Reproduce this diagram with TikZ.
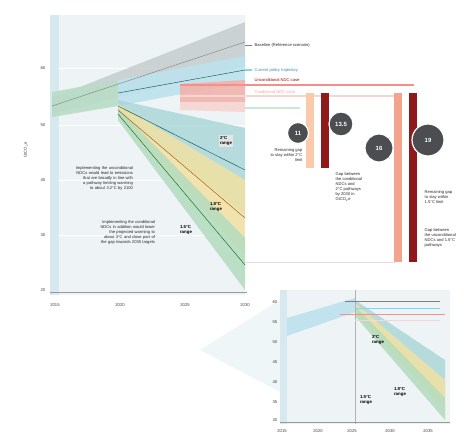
\documentclass[tikz,border=0pt]{standalone}
\usepackage{fontspec}
\setmainfont{Liberation Sans}
\definecolor{plotbg}{HTML}{EEF3F5}
\definecolor{axisblue}{HTML}{D6E9EF}
\definecolor{basegray}{HTML}{C3CACC}
\definecolor{histgreen}{HTML}{B8DCC6}
\definecolor{polblue}{HTML}{BCE2EE}
\definecolor{ucpink}{HTML}{F1B3AC}
\definecolor{cpale}{HTML}{F6D6D0}
\definecolor{teal2}{HTML}{A7D5D8}
\definecolor{yellow2}{HTML}{F2E1A2}
\definecolor{green15}{HTML}{B3DBBE}
\definecolor{darkred}{HTML}{8E1A1C}
\definecolor{salmon}{HTML}{F2A48E}
\definecolor{circgray}{HTML}{4B4D50}
\tikzset{
  lbl/.style={font=\fontsize{4.1}{5}\selectfont, text=black!85, inner sep=0.5pt},
  tick/.style={font=\fontsize{4.2}{5}\selectfont, text=black!75, inner sep=0.5pt},
  rng/.style={font=\fontsize{4.4}{5.2}\bfseries\selectfont, align=left, inner sep=1pt},
  gapnum/.style={circle, fill=circgray, draw=white, line width=1.2pt, text=white, font=\fontsize{6}{7}\bfseries\selectfont, inner sep=0pt},
  gapbar/.style={line width=#1}
}
\begin{document}
\begin{tikzpicture}[x=1pt,y=-1pt]
\useasboundingbox (0,0) rectangle (470,437);

\fill[plotbg] (52,15) rectangle (245,295);
\fill[axisblue] (50,15) rectangle (59,295);
\foreach \yy in {68,125,180,235}
  \draw[white, line width=0.4pt] (59,\yy) -- (245,\yy);
\draw[black!40, line width=0.4pt] (50,292) -- (247,292);
\draw[black!12, line width=0.4pt] (245,262) -- (395,262);

\fill[basegray, opacity=0.8] (52,98) -- (245,22) -- (245,66) -- (52,114) -- cycle;
\fill[histgreen, opacity=0.9] (52,92) -- (118,80) -- (118,106) -- (52,117) -- cycle;
\fill[polblue, opacity=0.9] (118,80) -- (245,56) -- (245,82) -- (118,106) -- cycle;
\fill[ucpink, opacity=0.9] (180,84) -- (245,80) -- (245,102) -- (180,102) -- cycle;
\fill[cpale, opacity=0.9] (180,102) -- (245,102) -- (245,112) -- (180,110) -- cycle;
\fill[teal2, opacity=0.8] (118,100) -- (245,128) -- (245,215) -- (118,112) -- cycle;
\fill[yellow2, opacity=0.85] (118,104) -- (245,180) -- (245,255) -- (118,116) -- cycle;
\fill[green15, opacity=0.85] (118,108) -- (245,238) -- (245,290) -- (118,120) -- cycle;
\draw[black!45, line width=0.5pt] (52,106) -- (245,42);
\draw[teal!60!black, line width=0.4pt] (118,93) -- (245,70);
\draw[teal!60!black, line width=0.4pt] (118,106) -- (245,170);
\draw[orange!60!black, line width=0.4pt] (118,110) -- (245,218);
\draw[green!40!black, line width=0.4pt] (118,114) -- (245,265);

\foreach \yy/\vv in {68/60,125/50,180/40,235/30,290/20}
  \node[tick, anchor=east] (y\vv) at (46,\yy) {\vv};
\node[tick, rotate=90] (yunit) at (26,150) {GtCO\textsubscript{2}e};
\foreach \xx/\yr in {55/2015,120/2020,185/2025,245/2030}
  \node[tick] (x\yr) at (\xx,305) {\yr};

\node[lbl, align=right, text width=66pt] (ncond) at (100,178) {Implementing the unconditional\\NDCs would lead to emissions\\that are broadly in line with\\a pathway limiting warming\\to about 3.2°C by 2100};
\node[lbl, align=right, text width=74pt] (cond) at (118,232) {Implementing the conditional\\NDCs in addition would lower\\the projected warming to\\about 3°C and close part of\\the gap towards 2030 targets};
\node[rng, fill=white!90!black] (r20) at (226,141) {2°C\\range};
\node[rng] (r18) at (216,207) {1.8°C\\range};
\node[rng] (r15) at (186,230) {1.5°C\\range};

\draw[black!50, line width=0.6pt] (245,45) -- (252,45);
\node[lbl, anchor=west] (lbase) at (254,45) {Baseline (Reference scenario)};
\draw[cyan!50, line width=1.2pt] (245,70) -- (252,70);
\node[lbl, anchor=west, text=cyan!60!black] (lpol) at (254,70) {Current policy trajectory};
\draw[ucpink!80!red, line width=1.6pt] (180,85) -- (414,85);
\node[lbl, anchor=west, text=red!60!black, fill=white] (lunc) at (254,80) {Unconditional NDC case};
\draw[cpale, line width=1.6pt] (180,96) -- (398,96);
\node[lbl, anchor=west, text=red!40] (lcon) at (254,92) {Conditional NDC case};
\draw[histgreen!70, line width=1.2pt] (245,108) -- (300,108);

\draw[gapbar=8pt, salmon!60!orange!50] (310,93) -- (310,168);
\draw[gapbar=8pt, darkred] (325,93) -- (325,168);
\draw[gapbar=8pt, salmon] (398,93) -- (398,262);
\draw[gapbar=8pt, darkred] (413,93) -- (413,262);

\node[gapnum, minimum size=21pt] (g11) at (298,133) {11};
\node[gapnum, minimum size=24pt] (g13) at (341,124) {13.5};
\node[gapnum, minimum size=28pt] (g16) at (379,148) {16};
\node[gapnum, minimum size=32pt] (g19) at (428,140) {19};

\node[lbl, align=right, anchor=north east] (gap2) at (303,148) {Remaining gap\\to stay within 2°C\\limit};
\node[lbl, align=left, anchor=north west] (mid) at (335,172) {Gap between\\the conditional\\NDCs and\\2°C pathways\\by 2030 in\\GtCO\textsubscript{2}e};
\node[lbl, align=left, anchor=north west] (gap15) at (424,190) {Remaining gap\\to stay within\\1.5°C limit};
\node[lbl, align=left, anchor=north west] (gap15b) at (424,228) {Gap between\\the unconditional\\NDCs and 1.5°C\\pathways};

\fill[axisblue!60, opacity=0.7] (200,350) -- (280,300) -- (280,392) -- cycle;
\fill[plotbg] (280,290) rectangle (450,424);
\fill[axisblue] (280,290) rectangle (287,424);
\fill[polblue, opacity=0.9] (287,318) -- (355,298) -- (355,312) -- (287,336) -- cycle;
\fill[teal2, opacity=0.8] (355,300) -- (445,360) -- (445,398) -- (355,310) -- cycle;
\fill[yellow2, opacity=0.85] (355,303) -- (445,380) -- (445,410) -- (355,313) -- cycle;
\fill[green15, opacity=0.85] (355,306) -- (445,398) -- (445,420) -- (355,316) -- cycle;
\draw[black!30, line width=0.3pt] (355,290) -- (355,424);
\draw[black!40, line width=0.4pt] (280,422) -- (450,422);
\draw[black!50, line width=0.6pt] (345,301) -- (440,301);
\draw[cyan!50, line width=0.8pt] (355,308) -- (440,308);
\draw[ucpink!80!red, line width=1pt] (340,314) -- (445,314);
\draw[cpale, line width=0.8pt] (355,320) -- (440,320);
\foreach \yy/\vv in {302/60,322/55,342/50,362/45,382/40,402/35,420/30}
  \node[tick, anchor=east] (iy\vv) at (278,\yy) {\vv};
\foreach \xx/\yr in {282/2015,318/2020,352/2025,390/2030,428/2035}
  \node[tick] (ix\yr) at (\xx,431) {\yr};
\node[rng] (ir20) at (378,340) {2°C\\range};
\node[rng] (ir18) at (400,392) {1.8°C\\range};
\node[rng] (ir15) at (366,400) {1.5°C\\range};
\end{tikzpicture}
\end{document}
